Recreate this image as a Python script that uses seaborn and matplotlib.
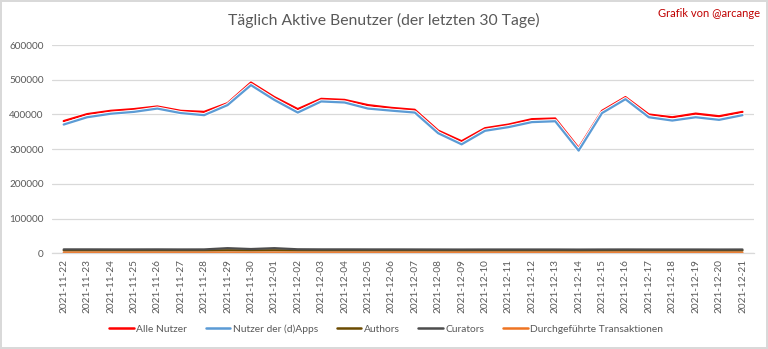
import matplotlib
matplotlib.use("Agg")
import matplotlib.pyplot as plt
import matplotlib.patheffects as pe
import seaborn as sns
import pandas as pd

dates = ["2021-11-22", "2021-11-23", "2021-11-24", "2021-11-25", "2021-11-26", "2021-11-27",
         "2021-11-28", "2021-11-29", "2021-11-30", "2021-12-01", "2021-12-02", "2021-12-03",
         "2021-12-04", "2021-12-05", "2021-12-06", "2021-12-07", "2021-12-08", "2021-12-09",
         "2021-12-10", "2021-12-11", "2021-12-12", "2021-12-13", "2021-12-14", "2021-12-15",
         "2021-12-16", "2021-12-17", "2021-12-18", "2021-12-19", "2021-12-20", "2021-12-21"]

alle_nutzer = [381000, 401000, 410500, 415500, 423000, 410500, 407500, 432500, 492000, 450000,
               415500, 445000, 442000, 427000, 419000, 413500, 353500, 323000, 360500, 371000,
               386500, 388500, 303500, 410500, 450000, 400000, 392000, 402500, 395000, 407500]
nutzer_dapps = [371000, 392000, 402000, 407500, 417000, 404000, 398000, 427000, 484500, 442000,
                405500, 437500, 434500, 417000, 411000, 405500, 346000, 314000, 353000, 363500,
                378000, 380500, 296000, 404000, 444000, 392000, 382500, 392000, 384500, 398000]
authors = [8500, 8500, 8500, 8400, 8500, 8400, 8400, 9000, 8600, 9000,
           8500, 8400, 8400, 8400, 8300, 8300, 8200, 8100, 8200, 8200,
           8200, 8200, 8000, 8200, 8300, 8200, 8200, 8200, 8100, 8200]
curators = [11500, 11500, 11400, 11400, 11500, 11300, 11400, 15000, 12500, 15000,
            11800, 11500, 11500, 11400, 11400, 11300, 11200, 11100, 11200, 11200,
            11200, 11200, 11000, 11200, 11300, 11200, 11200, 11200, 11100, 11200]
transaktionen = [2200, 2200, 2200, 2200, 2200, 2200, 2200, 2300, 2200, 2300,
                 2200, 2200, 2200, 2200, 2200, 2200, 2100, 2100, 2100, 2100,
                 2100, 2100, 2000, 2100, 2200, 2100, 2100, 2100, 2100, 2100]

series_names = ["Alle Nutzer", "Nutzer der (d)Apps", "Authors", "Curators",
                "Durchgeführte Transaktionen"]
series_values = [alle_nutzer, nutzer_dapps, authors, curators, transaktionen]
colors = ["#FF0000", "#5B9BD5", "#6B4A00", "#4D4D4D", "#EE7422"]

rows = []
for name, vals in zip(series_names, series_values):
    for d, v in zip(dates, vals):
        rows.append({"Datum": d, "Wert": v, "Serie": name})
df = pd.DataFrame(rows)

sns.set_theme(style="white")
plt.rcParams["font.family"] = ["Lato", "DejaVu Sans"]

fig = plt.figure(figsize=(7.68, 3.49), dpi=100)
fig.patch.set_edgecolor("#D9D9D9")
fig.patch.set_linewidth(1.5)
ax = fig.add_axes([0.0677, 0.274, 0.9143, 0.597])

sns.lineplot(data=df, x="Datum", y="Wert", hue="Serie", hue_order=series_names,
             palette=colors, linewidth=1.6, ax=ax, sort=False)

for line in ax.get_lines()[:2]:
    line.set_path_effects([pe.Stroke(linewidth=3.0, foreground="white"), pe.Normal()])

ax.set_ylim(0, 600000)
ax.set_yticks(range(0, 600001, 100000))
ax.set_xlim(-0.5, len(dates) - 0.5)
ax.set_xlabel("")
ax.set_ylabel("")
ax.grid(axis="y", color="#D9D9D9", linewidth=0.9)
ax.set_axisbelow(True)
for s in ["left", "right", "top"]:
    ax.spines[s].set_visible(False)
ax.spines["bottom"].set_color("#D9D9D9")
ax.spines["bottom"].set_linewidth(0.9)
ax.tick_params(axis="y", labelsize=7.2, labelcolor="#595959", length=0, pad=6)
ax.tick_params(axis="x", labelsize=7.2, labelcolor="#595959", length=0, pad=4)
plt.setp(ax.get_xticklabels(), rotation=90)

fig.text(0.5, 0.942, "Täglich Aktive Benutzer (der letzten 30 Tage)", ha="center", va="center",
         fontsize=11.3, color="#595959")
fig.text(0.99, 0.962, "Grafik von @arcange", ha="right", va="center",
         fontsize=8, color="#C00000")

handles, labels = ax.get_legend_handles_labels()
if ax.legend_:
    ax.legend_.remove()
leg = fig.legend(handles, labels, loc="center", bbox_to_anchor=(0.503, 0.057), ncol=5,
                 frameon=False, fontsize=7.4, handlelength=2.4, columnspacing=1.8,
                 handletextpad=0.25, labelcolor="#595959")
for h in leg.get_lines():
    h.set_linewidth(1.8)
    h.set_path_effects([])

fig.savefig("out.png", dpi=100)
